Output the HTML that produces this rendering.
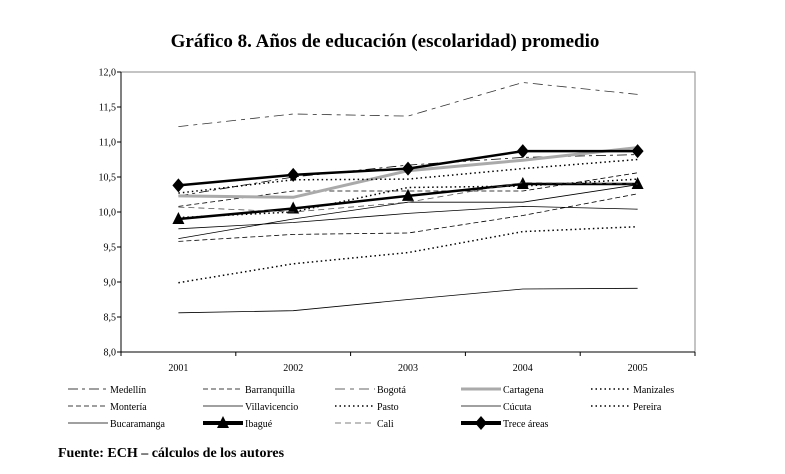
<!DOCTYPE html>
<html><head><meta charset="utf-8"><style>
body{margin:0;background:#fff;width:785px;height:469px;overflow:hidden;font-family:"Liberation Serif",serif}
svg text{font-family:"Liberation Serif",serif}
</style></head><body>
<svg id="chart" width="785" height="469" xmlns="http://www.w3.org/2000/svg">
<text x="385" y="47" text-anchor="middle" font-size="19" font-weight="bold">Gráfico 8. Años de educación (escolaridad) promedio</text>
<rect x="121" y="72" width="574" height="280" fill="none" stroke="#888" stroke-width="1"/>
<g id="axes"></g><g id="series"></g><g id="legend"></g>
<text x="58" y="457" font-size="14" font-weight="bold">Fuente: ECH – cálculos de los autores</text>
</svg>
<script>
const categories=["2001","2002","2003","2004","2005"];
const yTicks=[8.0,8.5,9.0,9.5,10.0,10.5,11.0,11.5,12.0];
const medellin=[10.23,10.50,10.67,10.78,10.82];
const barranquilla=[10.08,10.30,10.30,10.30,10.56];
const bogota=[11.22,11.40,11.37,11.85,11.68];
const cartagena=[10.23,10.21,10.59,10.74,10.92];
const manizales=[10.27,10.46,10.47,10.62,10.75];
const monteria=[9.58,9.68,9.70,9.95,10.26];
const villavicencio=[9.76,9.85,9.98,10.08,10.04];
const pasto=[8.99,9.26,9.42,9.72,9.79];
const cucuta=[9.62,9.90,10.14,10.14,10.39];
const pereira=[9.92,10.00,10.35,10.37,10.47];
const bucaramanga=[8.56,8.59,8.75,8.90,8.91];
const ibague=[9.90,10.05,10.23,10.40,10.40];
const cali=[10.07,10.00,10.14,10.42,10.40];
const trece=[10.38,10.53,10.62,10.87,10.87];

const NS="http://www.w3.org/2000/svg";
const L=121,R=695,T=72,B=352,ymin=8,ymax=12;
const band=(R-L)/categories.length;
function xs(i){return L+band*(i+0.5);}
function ys(v){return B-(v-ymin)/(ymax-ymin)*(B-T);}
function mk(tag,attrs,parent){const e=document.createElementNS(NS,tag);for(const k in attrs)e.setAttribute(k,attrs[k]);parent.appendChild(e);return e;}
const axes=document.getElementById('axes');
mk('line',{x1:L,y1:T,x2:L,y2:B,stroke:'#000'},axes);
mk('line',{x1:L,y1:B,x2:R,y2:B,stroke:'#000'},axes);
yTicks.forEach(v=>{
  mk('line',{x1:L-4,y1:ys(v),x2:L,y2:ys(v),stroke:'#000'},axes);
  const t=mk('text',{x:L-5,y:ys(v)+3.5,'text-anchor':'end','font-size':'10'},axes);
  t.textContent=v.toFixed(1).replace('.',',');
  
  
});
for(let i=0;i<=categories.length;i++){mk('line',{x1:L+band*i,y1:B,x2:L+band*i,y2:B+4,stroke:'#000'},axes);}
categories.forEach((c,i)=>{
  const t=mk('text',{x:xs(i),y:B+19,'text-anchor':'middle','font-size':'10'},axes);
  t.textContent=c;
  
  
});
const series=[
 {n:'Medellín',d:medellin,s:'#000',w:0.8,da:'10 4 3 4'},
 {n:'Barranquilla',d:barranquilla,s:'#000',w:0.8,da:'5 3'},
 {n:'Bogotá',d:bogota,s:'#333',w:0.8,da:'10 5 4 5'},
 {n:'Cartagena',d:cartagena,s:'#aaa',w:3,da:''},
 {n:'Manizales',d:manizales,s:'#000',w:1.5,da:'1.5 3'},
 {n:'Montería',d:monteria,s:'#000',w:0.8,da:'5 3'},
 {n:'Villavicencio',d:villavicencio,s:'#000',w:0.8,da:''},
 {n:'Pasto',d:pasto,s:'#000',w:1.5,da:'1.5 3'},
 {n:'Cúcuta',d:cucuta,s:'#000',w:0.8,da:''},
 {n:'Pereira',d:pereira,s:'#000',w:1.5,da:'1.5 3'},
 {n:'Bucaramanga',d:bucaramanga,s:'#000',w:0.8,da:''},
 {n:'Ibagué',d:ibague,s:'#000',w:2.5,da:'',m:'tri'},
 {n:'Cali',d:cali,s:'#555',w:0.8,da:'6 4'},
 {n:'Trece áreas',d:trece,s:'#000',w:2.5,da:'',m:'dia'}
];
const sg=document.getElementById('series');
function marker(type,x,y,parent){
  if(type==='tri'){const p=mk('polygon',{points:`${x},${y-7} ${x-6},${y+5} ${x+6},${y+5}`,fill:'#000'},parent);}
  if(type==='dia'){const p=mk('polygon',{points:`${x},${y-7} ${x+6},${y} ${x},${y+7} ${x-6},${y}`,fill:'#000'},parent);}
}
series.forEach(s=>{
  const pts=s.d.map((v,i)=>xs(i)+','+ys(v)).join(' ');
  const pl=mk('polyline',{points:pts,fill:'none',stroke:s.s,'stroke-width':s.w,'stroke-dasharray':s.da},sg);
  
  
  if(s.m)s.d.forEach((v,i)=>marker(s.m,xs(i),ys(v),sg));
});
const lg=document.getElementById('legend');
const colX=[68,203,335,461,591],rowY=[389,406,423];
series.forEach((s,k)=>{
  const cx=colX[k%5],cy=rowY[Math.floor(k/5)];
  const g=mk('g',{},lg);
  
  
  const lw=40;
  mk('line',{x1:cx,y1:cy,x2:cx+lw,y2:cy,stroke:s.s,'stroke-width':s.w==2.5?4:s.w,'stroke-dasharray':s.da},g);
  if(s.m)marker(s.m,cx+lw/2,cy,g);
  const t=mk('text',{x:cx+lw+2,y:cy+4,'font-size':'10'},g);
  t.textContent=s.n;
});
</script>
</body></html>
